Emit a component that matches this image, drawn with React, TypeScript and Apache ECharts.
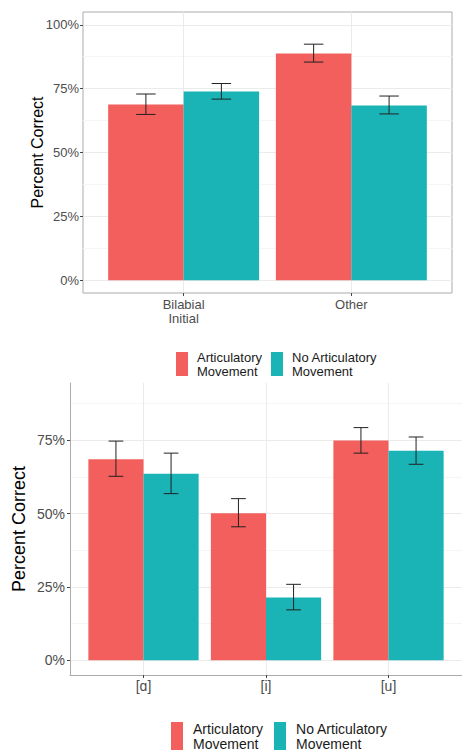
import React, { useEffect, useRef } from "react";
import * as echarts from "echarts";

const SERIES_NAMES = ["Articulatory Movement", "No Articulatory Movement"];
const COLORS = ["#F25F5C", "#1AB3B6"];

const topCategories = ["Bilabial\nInitial", "Other"];
const topArticulatory = [68.8, 88.8];
const topNoArticulatory = [73.9, 68.4];
const topArticulatoryLow = [64.9, 85.4];
const topArticulatoryHigh = [72.9, 92.4];
const topNoArticulatoryLow = [70.9, 65.1];
const topNoArticulatoryHigh = [77.0, 72.1];

const bottomCategories = ["[ɑ]", "[i]", "[u]"];
const bottomArticulatory = [68.5, 50.1, 74.9];
const bottomNoArticulatory = [63.6, 21.4, 71.4];
const bottomArticulatoryLow = [62.7, 45.5, 70.6];
const bottomArticulatoryHigh = [74.7, 55.1, 79.3];
const bottomNoArticulatoryLow = [56.8, 17.2, 66.8];
const bottomNoArticulatoryHigh = [70.6, 25.9, 76.1];

const yTicks = [0, 25, 50, 75, 100];
const yMinorTicks = [12.5, 37.5, 62.5, 87.5];

const FONT = "'Liberation Sans', Arial, sans-serif";
const TICK_LABEL = "#4D4D4D";
const GRID_MAJOR = "#EBEBEB";
const GRID_MINOR = "#F5F5F5";
const BORDER = "#ABABAB";

function errRender(dx: number, cap: number) {
  return (params: any, api: any) => {
    const x = api.value(0) + dx;
    const lo = api.value(1);
    const hi = api.value(2);
    const a = api.coord([x, lo]);
    const b = api.coord([x, hi]);
    const l1 = api.coord([x - cap, hi]);
    const r1 = api.coord([x + cap, hi]);
    const l2 = api.coord([x - cap, lo]);
    const r2 = api.coord([x + cap, lo]);
    const style = { stroke: "#222", lineWidth: 1 };
    return {
      type: "group",
      children: [
        { type: "line", shape: { x1: a[0], y1: a[1], x2: b[0], y2: b[1] }, style },
        { type: "line", shape: { x1: l1[0], y1: l1[1], x2: r1[0], y2: r1[1] }, style },
        { type: "line", shape: { x1: l2[0], y1: l2[1], x2: r2[0], y2: r2[1] }, style },
      ],
    };
  };
}

const pairs = (vals: number[]) => vals.map((v, i) => [i + 1, v]);
const errPairs = (lo: number[], hi: number[]) => lo.map((v, i) => [i + 1, v, hi[i]]);

export default function App() {
  const ref = useRef<HTMLDivElement>(null);
  useEffect(() => {
    if (!ref.current) return;
    const chart = echarts.init(ref.current, null, { renderer: "svg" });
    const legendFmt = (n: string) => n.replace(" Movement", "\nMovement");
    const option: any = {
      animation: false,
      backgroundColor: "#FFFFFF",
      textStyle: { fontFamily: FONT },
      grid: [
        { left: 83, top: 12, width: 369, height: 281, show: true, borderColor: BORDER, borderWidth: 1, backgroundColor: "transparent" },
        { left: 70, top: 383, width: 401, height: 292, show: false },
      ],
      legend: [
        {
          data: SERIES_NAMES, left: 171, top: 345, icon: "rect", itemWidth: 12, itemHeight: 24, itemGap: 9,
          selectedMode: false, formatter: legendFmt,
          textStyle: { fontSize: 13, lineHeight: 14, color: "#1A1A1A", fontFamily: FONT, padding: [0, 0, 0, 4] },
        },
        {
          data: SERIES_NAMES, left: 166, top: 716, icon: "rect", itemWidth: 12, itemHeight: 28, itemGap: 11,
          selectedMode: false, formatter: legendFmt,
          textStyle: { fontSize: 14, lineHeight: 15, color: "#1A1A1A", fontFamily: FONT, padding: [0, 0, 0, 5] },
        },
      ],
      xAxis: [
        {
          type: "value", gridIndex: 0, min: 0.4, max: 2.6,
          axisLine: { show: false, onZero: false },
          axisTick: { show: true, customValues: [1, 2], length: 3, lineStyle: { color: "#444" } },
          axisLabel: {
            customValues: [1, 2], formatter: (v: number) => topCategories[Math.round(v) - 1],
            color: TICK_LABEL, fontSize: 13, lineHeight: 14, margin: 4, fontFamily: FONT,
          },
          splitLine: { show: true, lineStyle: { color: GRID_MAJOR, width: 1 } },
        },
        {
          type: "value", gridIndex: 1, min: 0.4, max: 3.6,
          axisLine: { show: true, onZero: false, lineStyle: { color: BORDER } },
          axisTick: { show: true, customValues: [1, 2, 3], length: 3, lineStyle: { color: "#444" } },
          axisLabel: {
            customValues: [1, 2, 3], formatter: (v: number) => bottomCategories[Math.round(v) - 1],
            color: TICK_LABEL, fontSize: 14, margin: 4, fontFamily: FONT,
          },
          splitLine: { show: true, lineStyle: { color: GRID_MAJOR, width: 1 } },
        },
      ],
      yAxis: [
        {
          type: "value", gridIndex: 0, min: -5, max: 105,
          name: "Percent Correct", nameLocation: "middle", nameGap: 38, nameMoveOverlap: false,
          nameTextStyle: { fontSize: 16, color: "#000", fontFamily: FONT },
          axisLine: { show: false, onZero: false },
          axisTick: { show: true, customValues: yTicks, length: 3, lineStyle: { color: "#444" } },
          axisLabel: { customValues: yTicks, formatter: (v: number) => v + "%", color: TICK_LABEL, fontSize: 13, margin: 4, fontFamily: FONT },
          splitLine: { show: true, lineStyle: { color: GRID_MAJOR, width: 1 } },
        },
        {
          type: "value", gridIndex: 0, min: -5, max: 105,
          axisLine: { show: false, onZero: false },
          axisTick: { show: false, customValues: yMinorTicks },
          axisLabel: { show: false, customValues: yMinorTicks },
          splitLine: { show: true, lineStyle: { color: GRID_MINOR, width: 1 } },
        },
        {
          type: "value", gridIndex: 1, min: -5, max: 94.5,
          name: "Percent Correct", nameLocation: "middle", nameGap: 42, nameMoveOverlap: false,
          nameTextStyle: { fontSize: 18, color: "#000", fontFamily: FONT },
          axisLine: { show: true, onZero: false, lineStyle: { color: BORDER } },
          axisTick: { show: true, customValues: yTicks.filter((t) => t <= 94.5), length: 3, lineStyle: { color: "#444" } },
          axisLabel: { customValues: yTicks.filter((t) => t <= 94.5), formatter: (v: number) => v + "%", color: TICK_LABEL, fontSize: 14, margin: 5, fontFamily: FONT },
          splitLine: { show: true, lineStyle: { color: GRID_MAJOR, width: 1 } },
        },
        {
          type: "value", gridIndex: 1, min: -5, max: 94.5,
          axisLine: { show: false, onZero: false },
          axisTick: { show: false, customValues: yMinorTicks },
          axisLabel: { show: false, customValues: yMinorTicks },
          splitLine: { show: true, lineStyle: { color: GRID_MINOR, width: 1 } },
        },
      ],
      series: [
        { type: "bar", name: SERIES_NAMES[0], xAxisIndex: 0, yAxisIndex: 0, data: pairs(topArticulatory), barWidth: "45%", barGap: "0%", itemStyle: { color: COLORS[0] } },
        { type: "bar", name: SERIES_NAMES[1], xAxisIndex: 0, yAxisIndex: 0, data: pairs(topNoArticulatory), barWidth: "45%", barGap: "0%", itemStyle: { color: COLORS[1] } },
        { type: "bar", name: SERIES_NAMES[0], xAxisIndex: 1, yAxisIndex: 2, data: pairs(bottomArticulatory), barWidth: "45%", barGap: "0%", itemStyle: { color: COLORS[0] } },
        { type: "bar", name: SERIES_NAMES[1], xAxisIndex: 1, yAxisIndex: 2, data: pairs(bottomNoArticulatory), barWidth: "45%", barGap: "0%", itemStyle: { color: COLORS[1] } },
        { type: "custom", xAxisIndex: 0, yAxisIndex: 0, data: errPairs(topArticulatoryLow, topArticulatoryHigh), renderItem: errRender(-0.225, 0.058), z: 5 },
        { type: "custom", xAxisIndex: 0, yAxisIndex: 0, data: errPairs(topNoArticulatoryLow, topNoArticulatoryHigh), renderItem: errRender(0.225, 0.058), z: 5 },
        { type: "custom", xAxisIndex: 1, yAxisIndex: 2, data: errPairs(bottomArticulatoryLow, bottomArticulatoryHigh), renderItem: errRender(-0.225, 0.06), z: 5 },
        { type: "custom", xAxisIndex: 1, yAxisIndex: 2, data: errPairs(bottomNoArticulatoryLow, bottomNoArticulatoryHigh), renderItem: errRender(0.225, 0.06), z: 5 },
      ],
    };
    chart.setOption(option);
    return () => chart.dispose();
  }, []);
  return (
    <div
      ref={ref}
      style={{ position: "absolute", left: 0, top: 0, width: 462, height: 753, background: "#fff" }}
    />
  );
}
